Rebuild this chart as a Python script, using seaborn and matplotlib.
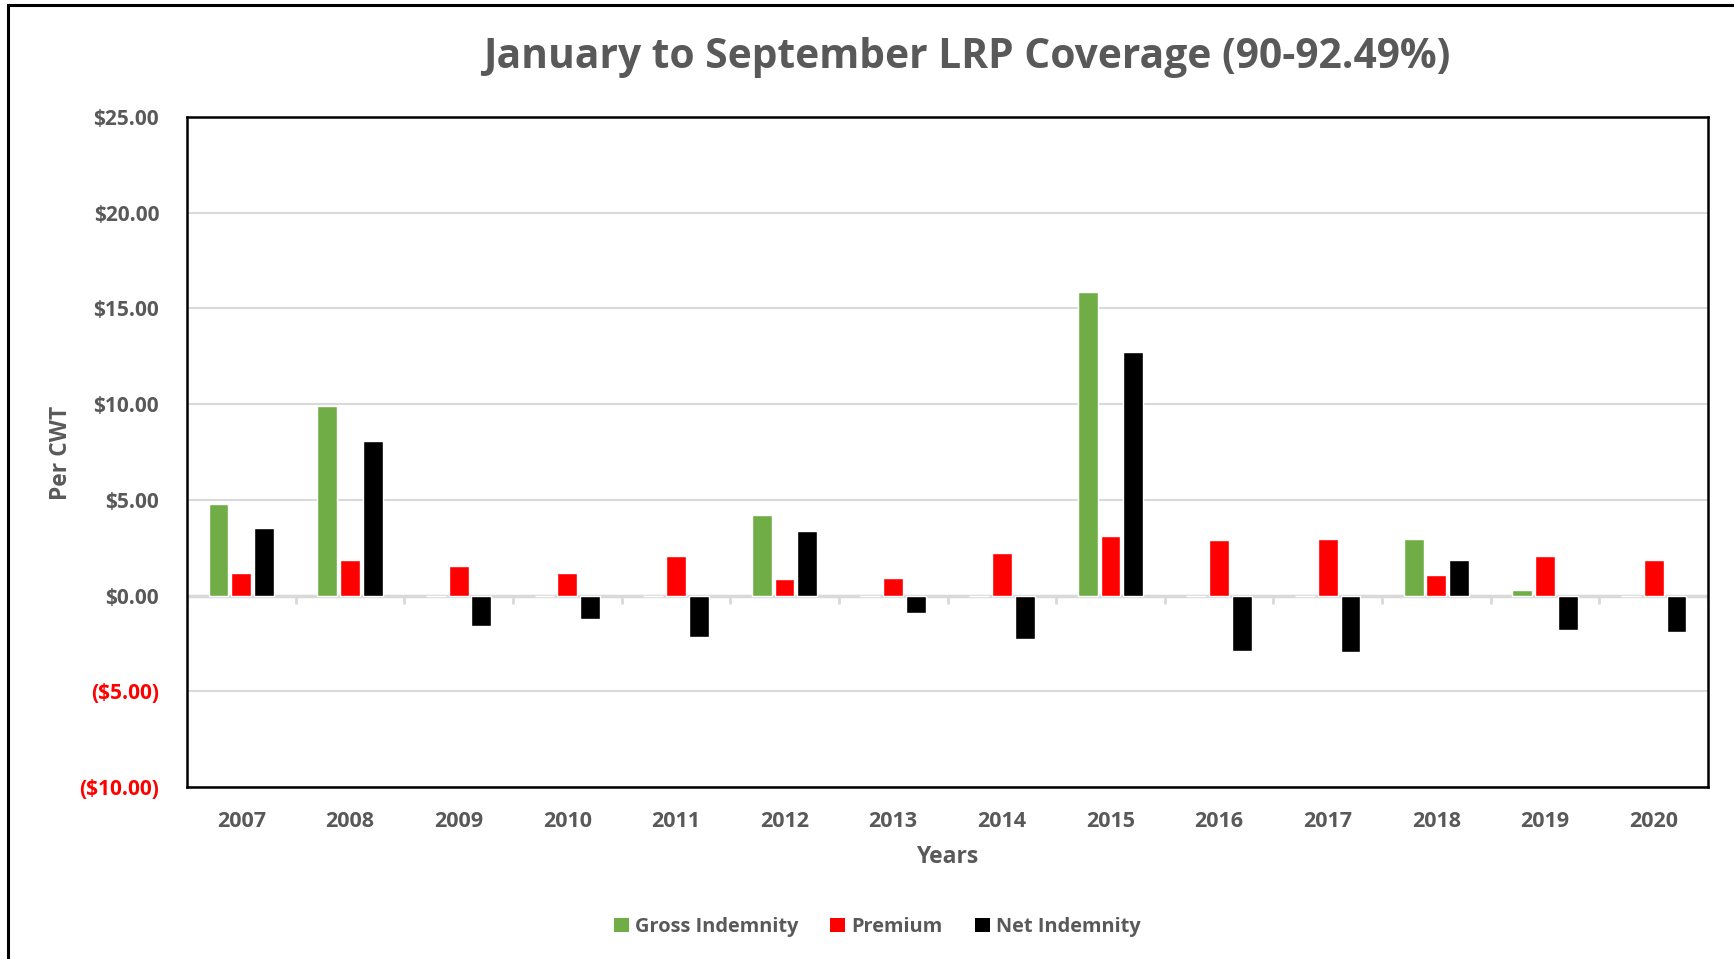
import pandas as pd
import numpy as np
import matplotlib.pyplot as plt
import seaborn as sns
from matplotlib.patches import Rectangle, Patch

years = ['2007', '2008', '2009', '2010', '2011', '2012', '2013', '2014',
         '2015', '2016', '2017', '2018', '2019', '2020']
gross = [4.80, 9.90, 0, 0, 0, 4.22, 0, 0, 15.86, 0, 0, 2.95, 0.29, 0]
premium = [1.20, 1.85, 1.56, 1.16, 2.08, 0.87, 0.93, 2.20, 3.12, 2.89, 2.95, 1.10, 2.08, 1.85]
net = [3.55, 8.05, -1.60, -1.20, -2.14, 3.36, -0.93, -2.26, 12.70, -2.89, -2.95, 1.85, -1.79, -1.91]
series = ['Gross Indemnity', 'Premium', 'Net Indemnity']
colors = ['#70AD47', '#FF0000', '#000000']
yticks = [-10, -5, 0, 5, 10, 15, 20, 25]

df = pd.DataFrame({'Year': years * 3,
                   'Series': [s for s in series for _ in years],
                   'Value': gross + premium + net})

sns.set_style('white')
plt.rcParams['font.family'] = ['Open Sans', 'DejaVu Sans']
grey = '#595959'

fig = plt.figure(figsize=(17.34, 9.59), dpi=100)
ax = fig.add_axes([187/1734, 1-787/959, (1708-187)/1734, (787-117)/959])

sns.barplot(data=df, x='Year', y='Value', hue='Series', palette=colors,
            saturation=1, width=0.63, gap=0.13, ax=ax, legend=False, zorder=3)

ax.set_ylim(-10, 25)
ax.set_xlim(-0.5, len(years) - 0.5)
ax.set_yticks(yticks)
ax.yaxis.grid(True, color='#D9D9D9', linewidth=1.5, zorder=0)
ax.axhline(0, color='#D9D9D9', linewidth=2.5, zorder=2)
# small tick marks on the zero line between categories
ax.vlines(np.arange(len(years) + 1) - 0.5, -0.45, 0, color='#D9D9D9', linewidth=2, zorder=2)

labels = []
for t in yticks:
    labels.append(f'(${abs(t):.2f})' if t < 0 else f'${t:.2f}')
ax.set_yticklabels(labels, fontsize=15, fontweight='bold')
for lab, t in zip(ax.get_yticklabels(), yticks):
    lab.set_color('#FF0000' if t < 0 else grey)
ax.set_xticks(range(len(years)))
ax.set_xticklabels(years, fontsize=15.5, fontweight='bold', color=grey)
ax.tick_params(axis='x', length=0, pad=17)
ax.tick_params(axis='y', length=0, pad=20)

for s in ax.spines.values():
    s.set_visible(True)
    s.set_color('black')
    s.set_linewidth(1.8)

ax.set_xlabel('')
ax.set_ylabel('')
fig.text(61/1734, 1-453/959, 'Per CWT', rotation=90, ha='center', va='center',
         fontsize=16.5, fontweight='bold', color=grey)
fig.text(947/1734, 1-857/959, 'Years', ha='center', va='center',
         fontsize=16.5, fontweight='bold', color=grey)
fig.text(967/1734, 1-57/959, 'January to September LRP Coverage (90-92.49%)',
         ha='center', va='center', fontsize=29.3, fontweight='bold', color=grey)

handles = [Patch(facecolor=c, edgecolor='none') for c in colors]
leg = fig.legend(handles, series, loc='center', bbox_to_anchor=(877/1734, 1-927/959),
                 ncol=3, frameon=False, handlelength=0.75, handleheight=0.75,
                 handletextpad=0.3, columnspacing=1.6,
                 prop={'size': 14.4, 'weight': 'bold'})
for t in leg.get_texts():
    t.set_color(grey)

# outer chart border (left and top visible)
fig.add_artist(Rectangle((8/1734, -0.2), 1.5, 1.2 - 5/959, transform=fig.transFigure,
                         fill=False, edgecolor='black', linewidth=2.2))

fig.savefig('out.png', dpi=100, facecolor='white')
